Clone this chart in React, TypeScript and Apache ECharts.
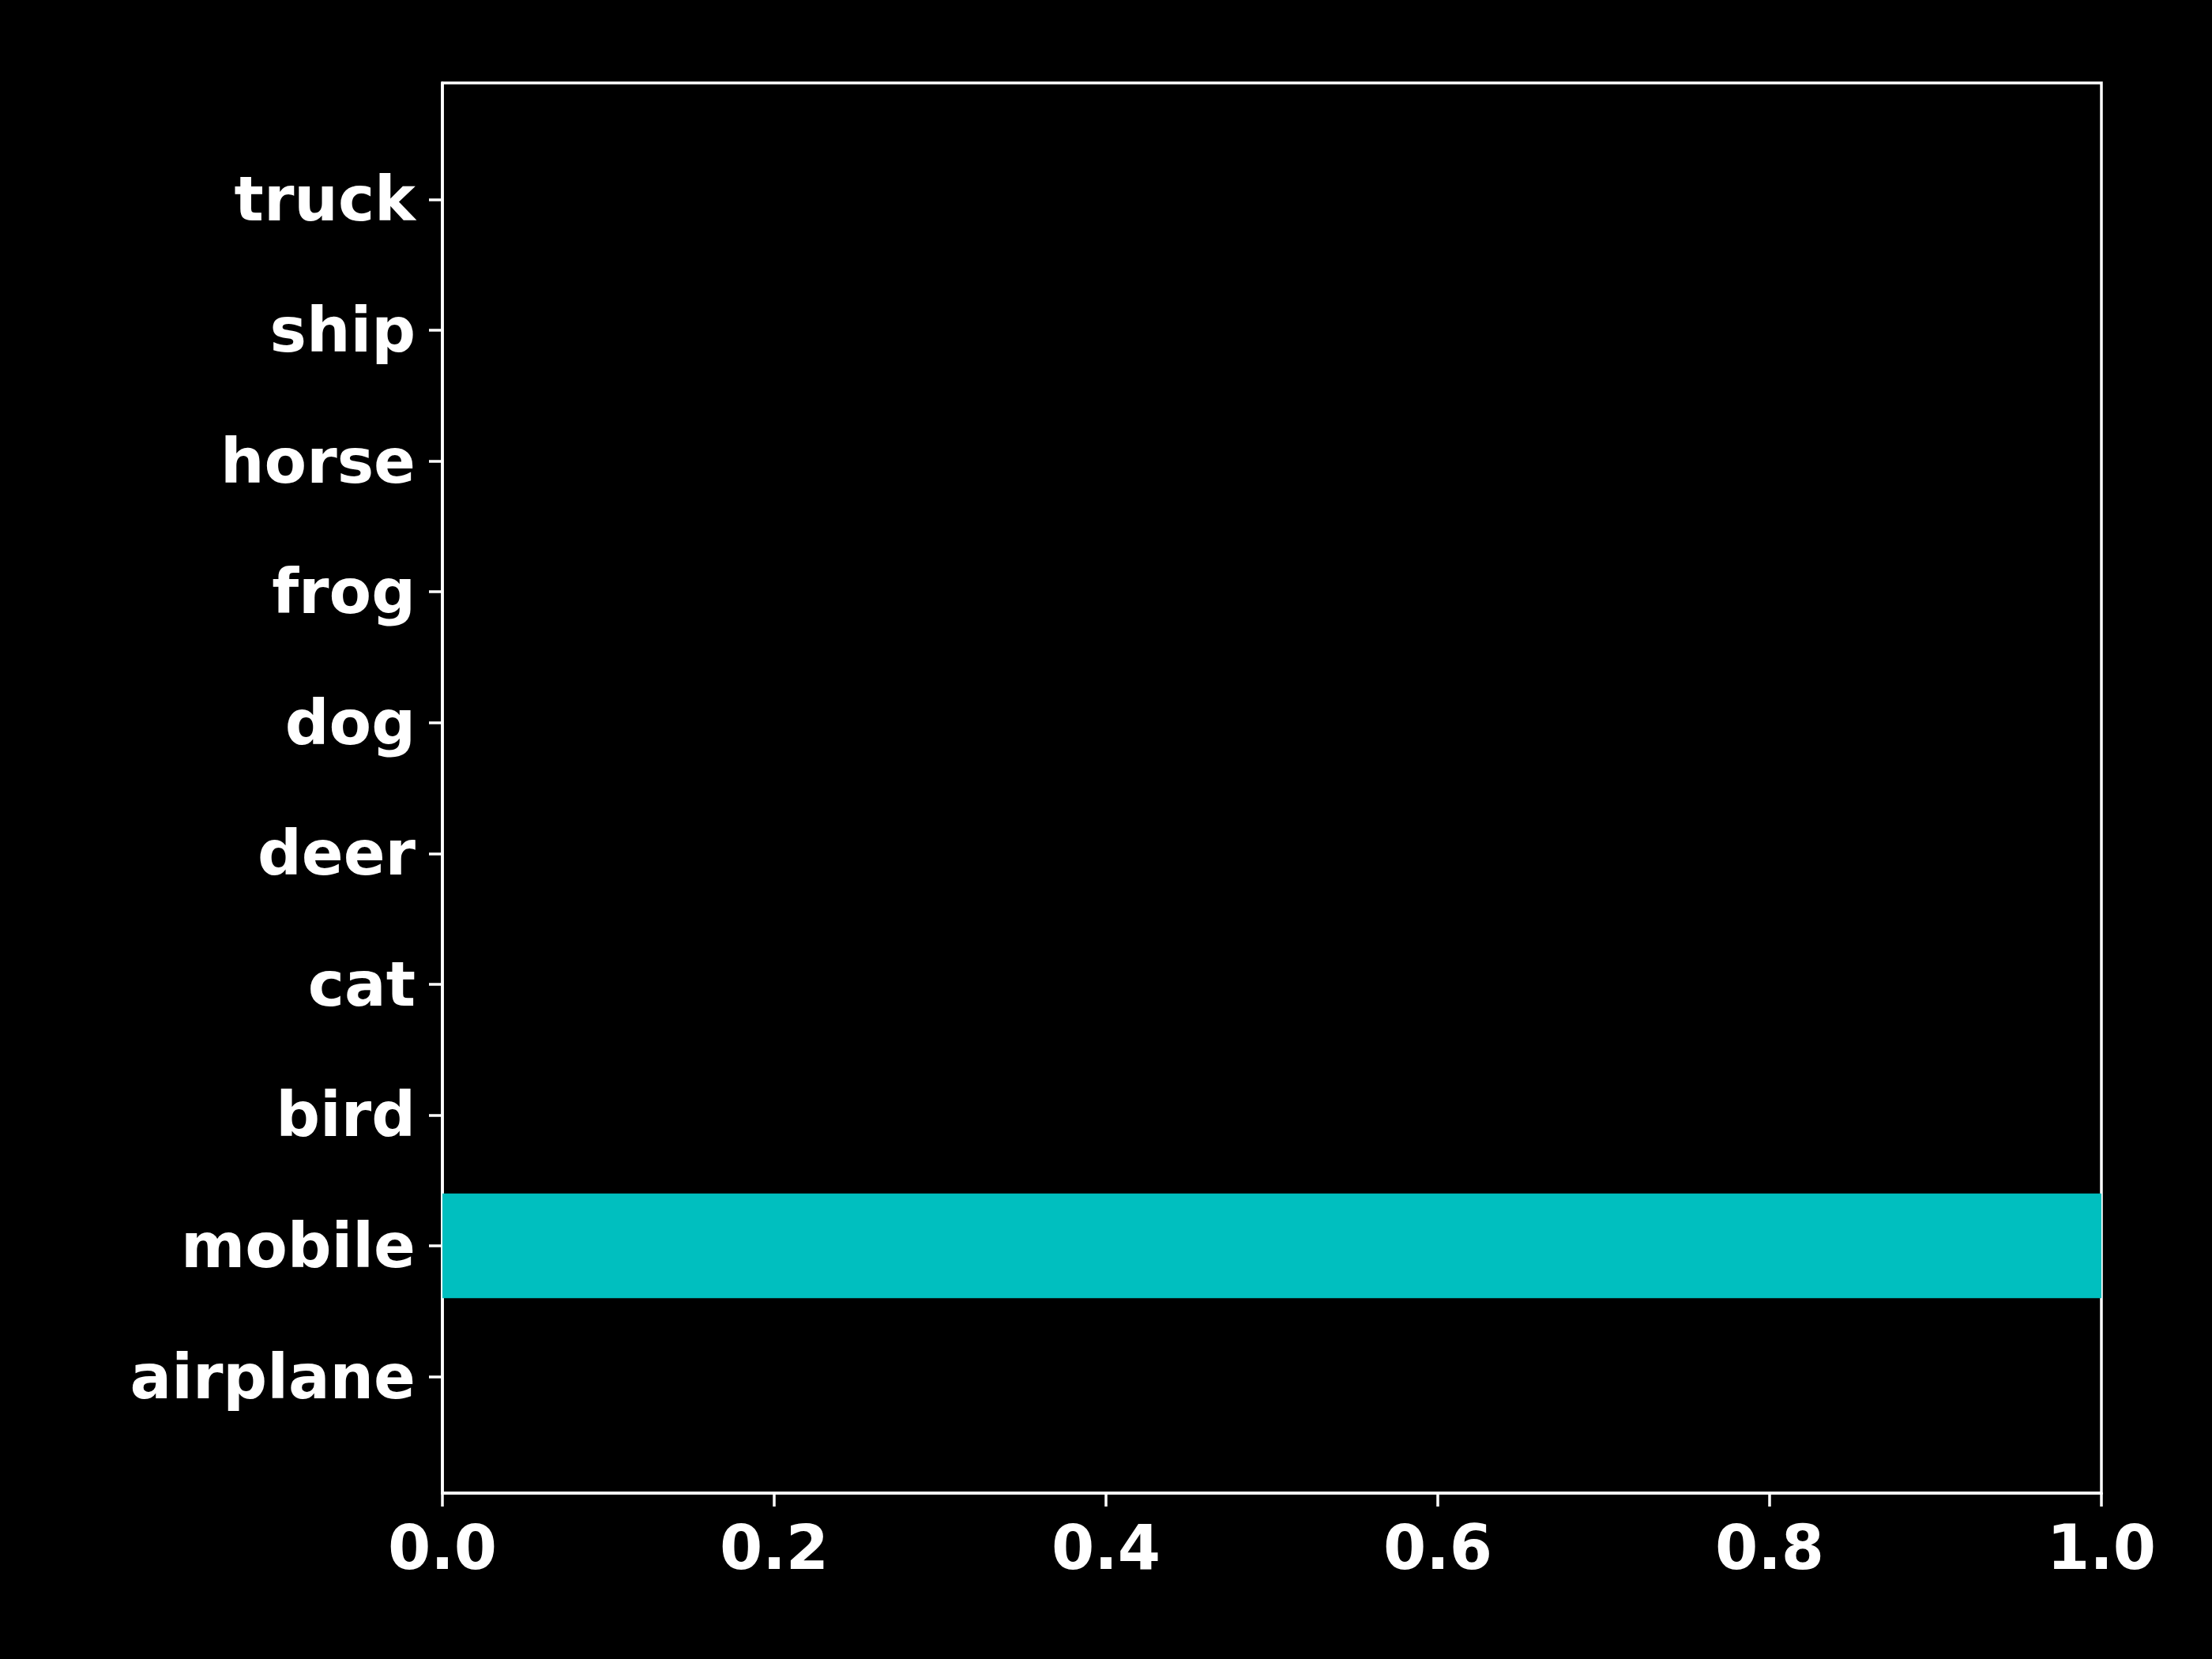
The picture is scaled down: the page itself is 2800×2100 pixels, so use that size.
import React, { useEffect, useRef } from "react";
import * as echarts from "echarts";

const categories = ["airplane", "mobile", "bird", "cat", "deer", "dog", "frog", "horse", "ship", "truck"];
const values = [0, 1.0, 0, 0, 0, 0, 0, 0, 0, 0];
const xTicks = [0, 0.2, 0.4, 0.6, 0.8, 1.0];
const yTickPositions = [0, 1, 2, 3, 4, 5, 6, 7, 8, 9];

export default function App() {
  const ref = useRef<HTMLDivElement>(null);
  useEffect(() => {
    if (!ref.current) return;
    const chart = echarts.init(ref.current, null, { renderer: "svg" });
    const font = "DejaVu Sans";
    chart.setOption({
      animation: false,
      backgroundColor: "#000000",
      grid: {
        left: 560,
        right: 140,
        top: 105,
        bottom: 210,
        show: true,
        borderColor: "#ffffff",
        borderWidth: 3.5,
        backgroundColor: "#000000",
      },
      xAxis: {
        type: "value",
        min: 0,
        max: 1,
        interval: 0.2,
        axisLine: { show: true, onZero: false, lineStyle: { color: "#ffffff", width: 3.5 } },
        axisTick: { show: true, length: 17, lineStyle: { color: "#ffffff", width: 3.5 } },
        splitLine: { show: false },
        axisLabel: {
          color: "#ffffff",
          fontFamily: font,
          fontWeight: "bold",
          fontSize: 78,
          margin: 30,
          formatter: (v: number) => v.toFixed(1),
          customValues: xTicks,
        },
      },
      yAxis: {
        type: "value",
        min: -0.89,
        max: 9.89,
        axisLine: { show: true, onZero: false, lineStyle: { color: "#ffffff", width: 3.5 } },
        axisTick: {
          show: true,
          length: 17,
          lineStyle: { color: "#ffffff", width: 3.5 },
          customValues: yTickPositions,
        },
        splitLine: { show: false },
        axisLabel: {
          color: "#ffffff",
          fontFamily: font,
          fontWeight: "bold",
          fontSize: 78,
          margin: 34,
          padding: [7, 0, 0, 0],
          customValues: yTickPositions,
          formatter: (v: number) => categories[Math.round(v)] ?? "",
        },
      },
      series: [
        {
          type: "custom",
          renderItem: (params: any, api: any) => {
            const v = api.value(0);
            const idx = api.value(1);
            const start = api.coord([0, idx]);
            const end = api.coord([v, idx]);
            const h = api.size([0, 0.8])[1];
            return {
              type: "rect",
              shape: { x: start[0], y: start[1] - h / 2, width: end[0] - start[0], height: h },
              style: { fill: "#00bfbf" },
            };
          },
          encode: { x: 0, y: 1 },
          data: values.map((v, i) => [v, i]),
          z: 1,
        },
      ],
    });
    return () => chart.dispose();
  }, []);
  return (
    <div
      ref={ref}
      style={{ position: "fixed", left: 0, top: 0, width: 2800, height: 2100, background: "#000" }}
    />
  );
}
